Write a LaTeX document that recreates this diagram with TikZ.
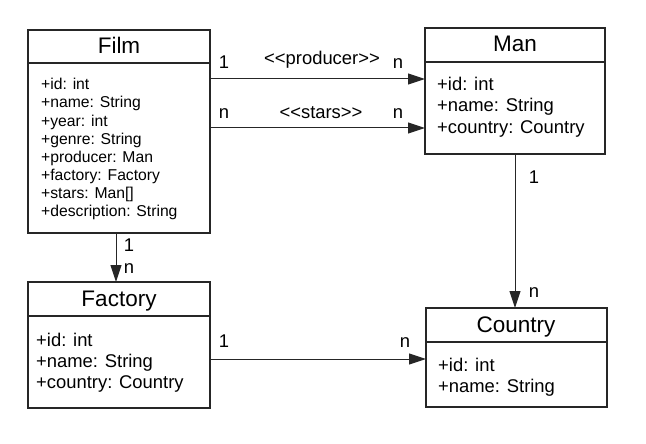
\documentclass[tikz,border=0pt]{standalone}
\usepackage{fontspec}
\setmainfont{Liberation Sans}
\usetikzlibrary{arrows.meta}
\tikzset{
  umlbox/.style={draw=black!85, line width=1.1pt, outer sep=0pt, inner sep=0pt, anchor=north west},
  divider/.style={draw=black!85, line width=1.1pt},
  ttl/.style={inner sep=0pt, anchor=base, font=\fontsize{22.5}{26}\selectfont},
  attr/.style={inner sep=0pt, anchor=base west, font=\fontsize{15.7}{18}\selectfont},
  bigattr/.style={inner sep=0pt, anchor=base west, font=\fontsize{18.4}{21}\selectfont},
  lbl/.style={inner sep=0pt, anchor=base, font=\fontsize{18.4}{20}\selectfont},
  conn/.style={draw=black!85, line width=1pt, -{Triangle[length=17pt,width=11pt]}}
}
\begin{document}
\begin{tikzpicture}[x=1pt,y=1pt]
\useasboundingbox[fill=white] (0,0) rectangle (646,-444);
% boxes
\node[umlbox, minimum width=182pt, minimum height=203pt] (film) at (28,-30) {};
\node[umlbox, minimum width=180pt, minimum height=126pt] (man) at (425,-28) {};
\node[umlbox, minimum width=182pt, minimum height=126pt] (factory) at (28,-282) {};
\node[umlbox, minimum width=181pt, minimum height=99pt] (country) at (426,-308) {};
% dividers
\draw[divider] (film.west |- 0,-63) -- (film.east |- 0,-63);
\draw[divider] (man.west |- 0,-62) -- (man.east |- 0,-62);
\draw[divider] (factory.west |- 0,-316) -- (factory.east |- 0,-316);
\draw[divider] (country.west |- 0,-342) -- (country.east |- 0,-342);
% titles
\node[ttl] (filmT) at (119,-54) {Film};
\node[ttl] (manT) at (515,-52) {Man};
\node[ttl] (factoryT) at (119,-306) {Factory};
\node[ttl] (countryT) at (516,-332) {Country};
% attributes
\foreach \t [count=\i] in {+id: int,+name: String,+year: int,+genre: String,+producer: Man,+factory: Factory,+stars: Man[],+description: String}
  \node[attr] (fa\i) at (41,{-90-18*(\i-1)}) {\t};
\foreach \t [count=\i] in {+id: int,+name: String,+country: Country}
  \node[bigattr] (ma\i) at (437,{-91-21*(\i-1)}) {\t};
\foreach \t [count=\i] in {+id: int,+name: String,+country: Country}
  \node[bigattr] (fca\i) at (36,{-346-21*(\i-1)}) {\t};
\foreach \t [count=\i] in {+id: int,+name: String}
  \node[bigattr] (ca\i) at (438,{-371-21*(\i-1)}) {\t};
% connectors
\draw[conn] (film.east |- 0,-79) -- (man.west |- 0,-79);
\draw[conn] (film.east |- 0,-128) -- (man.west |- 0,-128);
\draw[conn] (film.south -| 116,0) -- (factory.north -| 116,0);
\draw[conn] (man.south -| 515,0) -- (country.north -| 515,0);
\draw[conn] (factory.east |- 0,-359) -- (country.west |- 0,-359);
% labels
\node[lbl] (l1) at (224,-69) {1};
\node[lbl] (l2) at (322,-65) {<{}<producer>{}>};
\node[lbl] (l3) at (398,-69) {n};
\node[lbl] (l4) at (224,-119) {n};
\node[lbl] (l5) at (321,-118) {<{}<stars>{}>};
\node[lbl] (l6) at (398,-119) {n};
\node[lbl] (l7) at (129,-251) {1};
\node[lbl] (l8) at (129,-273) {n};
\node[lbl] (l9) at (534,-183) {1};
\node[lbl] (l10) at (534,-297) {n};
\node[lbl] (l11) at (224,-347) {1};
\node[lbl] (l12) at (405,-347) {n};
\end{tikzpicture}
\end{document}
